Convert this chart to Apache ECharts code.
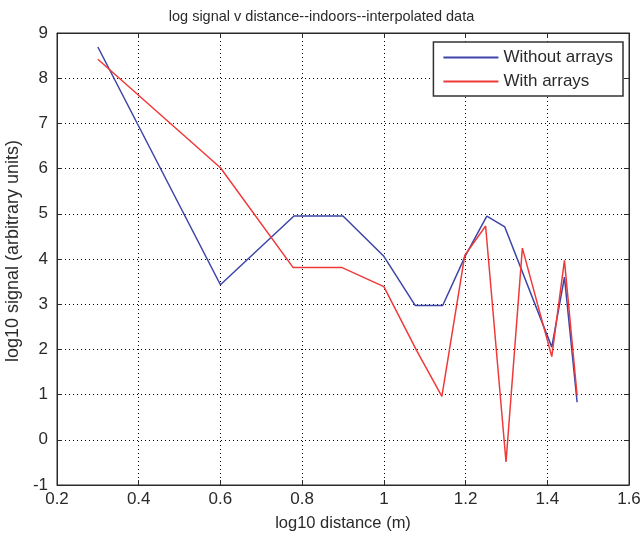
<!DOCTYPE html>
<html><head><meta charset="utf-8">
<script src="https://cdn.jsdelivr.net/npm/echarts@6/dist/echarts.min.js"></script>
<style>html,body{margin:0;padding:0;background:#fff}#c{width:643px;height:538px}</style>
</head><body><div id="c"></div>
<script>
const titleText = 'log signal v distance--indoors--interpolated data';
const xLabel = 'log10 distance (m)';
const yLabel = 'log10 signal (arbitrary units)';
const seriesNames = ['Without arrays', 'With arrays'];
const withoutX = [0.3, 0.6, 0.78, 0.9, 1.0, 1.077, 1.144, 1.2, 1.252, 1.296, 1.411, 1.442, 1.473];
const withoutY = [8.69, 3.43, 4.95, 4.95, 4.06, 2.97, 2.97, 4.08, 4.95, 4.71, 2.05, 3.6, 0.83];
const withX = [0.3, 0.6, 0.778, 0.898, 1.0, 1.08, 1.142, 1.198, 1.249, 1.299, 1.339, 1.411, 1.442, 1.473];
const withY = [8.42, 6.02, 3.81, 3.81, 3.39, 1.98, 0.96, 4.08, 4.73, -0.49, 4.24, 1.84, 3.97, 0.98];
const xMin = 0.2, xMax = 1.6, xStep = 0.2;
const yMin = -1, yMax = 9, yStep = 1;

const font = 'Liberation Sans, Arial, sans-serif';
const ink = '#2a2a2a';
const pair = (xs, ys) => xs.map((x, i) => [x, ys[i]]);
const gridLine = {show: true, lineStyle: {color: '#000', type: [1, 3], width: 1}};
const tick = {show: true, inside: true, length: 5, lineStyle: {color: ink}};
const chart = echarts.init(document.getElementById('c'));
chart.setOption({
  animation: false,
  backgroundColor: '#fff',
  title: {text: titleText, left: 'center', top: 4, textStyle: {fontFamily: font, fontSize: 14.5, fontWeight: 'normal', color: ink}},
  grid: {left: 57, right: 14, top: 33, bottom: 53, containLabel: false, outerBoundsMode: 'none',
         show: true, borderColor: ink, borderWidth: 1},
  legend: {
    data: seriesNames, orient: 'vertical', right: 20, top: 42,
    backgroundColor: '#fff', borderColor: '#333', borderWidth: 1.5,
    padding: [7, 10, 6, 10], itemGap: 7, itemWidth: 55, itemHeight: 2, icon: 'rect',
    textStyle: {fontFamily: font, fontSize: 17, color: ink}
  },
  xAxis: [{
    type: 'value', min: xMin, max: xMax, interval: xStep,
    name: xLabel, nameLocation: 'middle', nameGap: 30,
    nameTextStyle: {fontFamily: font, fontSize: 16.5, color: ink},
    axisLine: {show: true, onZero: false, lineStyle: {color: ink}},
    axisTick: tick,
    axisLabel: {fontFamily: font, fontSize: 17, color: ink, margin: 6, formatter: v => (Math.round(v*10)/10).toString()},
    splitLine: gridLine
  }, {
    type: 'value', position: 'top', min: xMin, max: xMax, interval: xStep,
    axisLine: {show: true, onZero: false, lineStyle: {color: ink}},
    axisTick: tick, axisLabel: {show: false}, splitLine: {show: false}
  }],
  yAxis: [{
    type: 'value', min: yMin, max: yMax, interval: yStep,
    name: yLabel, nameLocation: 'middle', nameGap: 23, nameRotate: 90,
    nameTextStyle: {fontFamily: font, fontSize: 18, color: ink, padding: [0, 0, 0, 16]},
    axisLine: {show: true, onZero: false, lineStyle: {color: ink}},
    axisTick: tick,
    axisLabel: {fontFamily: font, fontSize: 17, color: ink, margin: 9},
    splitLine: gridLine
  }, {
    type: 'value', position: 'right', min: yMin, max: yMax, interval: yStep,
    axisLine: {show: true, onZero: false, lineStyle: {color: ink}},
    axisTick: tick, axisLabel: {show: false}, splitLine: {show: false}
  }],
  series: [
    {name: seriesNames[0], type: 'line', data: pair(withoutX, withoutY), showSymbol: false, symbol: 'none',
     lineStyle: {color: '#3d45a8', width: 1.5}, itemStyle: {color: '#3d45a8'}},
    {name: seriesNames[1], type: 'line', data: pair(withX, withY), showSymbol: false, symbol: 'none',
     lineStyle: {color: '#f03a3a', width: 1.5}, itemStyle: {color: '#f03a3a'}}
  ]
});
</script></body></html>
